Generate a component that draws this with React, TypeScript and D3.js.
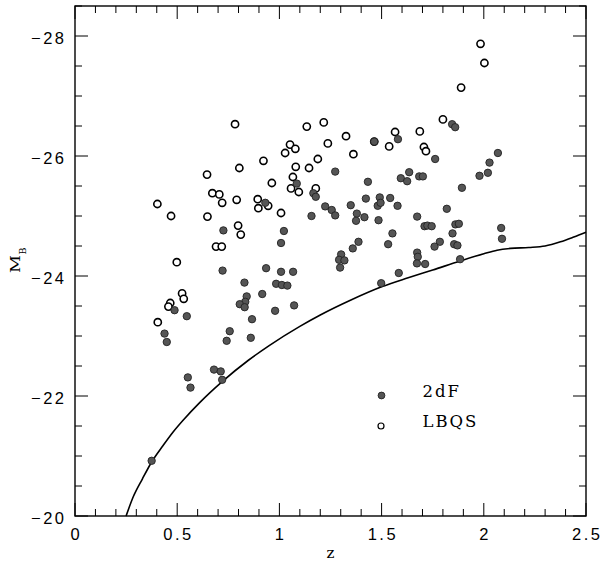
import React from 'react';
import * as d3 from 'd3';

// ---- data ----
const lbqsZ = [0.783,1.134,1.052,1.078,1.028,0.922,1.188,0.804,0.646,1.080,1.145,0.963,1.066,1.057,1.095,1.178,0.672,0.706,0.720,0.791,0.403,0.470,0.648,0.894,0.897,0.945,1.008,0.798,0.811,0.690,0.718,0.498,1.217,1.326,1.237,1.362,1.566,1.687,1.800,1.537,1.707,1.717,1.984,2.003,1.889,0.524,0.532,0.466,0.457,0.405,1.464];
const lbqsM = [-26.53,-26.49,-26.19,-26.12,-26.05,-25.92,-25.95,-25.80,-25.69,-25.82,-25.80,-25.55,-25.65,-25.46,-25.40,-25.46,-25.38,-25.36,-25.22,-25.27,-25.20,-25.00,-24.99,-25.28,-25.13,-25.17,-25.05,-24.84,-24.69,-24.49,-24.49,-24.23,-26.56,-26.33,-26.21,-26.03,-26.40,-26.41,-26.61,-26.16,-26.15,-26.08,-27.87,-27.55,-27.14,-23.71,-23.62,-23.55,-23.49,-23.23,-26.24];

const tdfZ = [1.085,1.166,1.178,0.931,1.157,0.726,1.022,1.008,0.722,0.935,1.008,1.067,0.829,0.984,1.012,1.039,0.916,0.840,0.833,0.806,0.830,1.072,0.487,0.547,0.979,0.866,0.438,0.449,0.757,0.742,0.860,0.680,0.713,0.720,0.552,0.565,0.375,1.845,1.860,1.464,1.580,1.762,2.069,2.028,2.020,1.979,1.273,1.433,1.635,1.594,1.625,1.684,1.702,1.893,1.224,1.256,1.273,1.349,1.423,1.491,1.481,1.495,1.542,1.578,1.379,1.375,1.416,1.485,1.819,1.674,1.710,1.724,1.745,1.861,1.878,2.085,2.089,1.553,1.847,1.387,1.359,1.532,1.785,1.759,1.855,1.871,1.302,1.292,1.318,1.297,1.674,1.677,1.673,1.713,1.884,1.584,1.498];
const tdfM = [-25.54,-25.38,-25.32,-25.22,-25.00,-24.76,-24.75,-24.55,-24.09,-24.13,-24.07,-24.07,-23.89,-23.87,-23.85,-23.84,-23.70,-23.66,-23.57,-23.53,-23.48,-23.51,-23.43,-23.33,-23.42,-23.28,-23.04,-22.90,-23.08,-22.92,-22.97,-22.44,-22.41,-22.27,-22.31,-22.14,-20.92,-26.53,-26.48,-26.24,-26.28,-25.95,-26.05,-25.89,-25.72,-25.67,-25.74,-25.57,-25.73,-25.63,-25.58,-25.66,-25.66,-25.47,-25.16,-25.10,-25.01,-25.18,-25.29,-25.31,-25.17,-25.22,-25.30,-25.17,-25.04,-24.92,-24.98,-24.93,-25.12,-24.99,-24.83,-24.84,-24.83,-24.86,-24.87,-24.80,-24.62,-24.71,-24.71,-24.57,-24.46,-24.53,-24.57,-24.49,-24.53,-24.51,-24.36,-24.27,-24.26,-24.14,-24.39,-24.32,-24.21,-24.20,-24.28,-24.05,-23.88];

const limitZ = [0.25,0.285,0.33,0.375,0.43,0.48,0.53,0.61,0.72,0.85,0.95,1.10,1.20,1.35,1.50,1.63,1.75,1.885,2.00,2.065,2.13,2.22,2.30,2.375,2.44,2.50];
const limitM = [-20.0,-20.32,-20.62,-20.9,-21.17,-21.40,-21.6,-21.89,-22.24,-22.6,-22.84,-23.16,-23.35,-23.6,-23.82,-23.97,-24.1,-24.25,-24.37,-24.43,-24.46,-24.475,-24.5,-24.57,-24.65,-24.73];

const xTickValues = [0, 0.5, 1, 1.5, 2, 2.5];
const xTickLabels = ['0', '0.5', '1', '1.5', '2', '2.5'];
const yTickValues = [-20, -22, -24, -26, -28];
const yTickLabels = ['\u221220', '\u221222', '\u221224', '\u221226', '\u221228'];
const legendLabels = ['2dF', 'LBQS'];

export default function App() {
  const W = 601, H = 561;
  const x = d3.scaleLinear().domain([0, 2.5]).range([75, 586]);
  const y = d3.scaleLinear().domain([-20, -28.5]).range([516, 6]);
  const x0 = x.range()[0], x1 = x.range()[1];
  const y0 = y.range()[0], y1 = y.range()[1];

  const xMinor = d3.range(0, 25.01, 1).map(v => v / 10);
  const yMinor = d3.range(0, 17.01, 1).map(v => -20 - v / 2);
  const isMajorX = (v: number) => Math.abs(v * 2 - Math.round(v * 2)) < 1e-6;
  const isMajorY = (v: number) => Math.abs(v / 2 - Math.round(v / 2)) < 1e-6;

  const line = d3.line<number>()
    .x((_, i) => x(limitZ[i]))
    .y((m) => y(m))
    .curve(d3.curveMonotoneX);

  const tickFont = { fontFamily: '"Liberation Sans", Arial, sans-serif', fontSize: 16.5, letterSpacing: 2.5 };
  const serif = '"DejaVu Serif", serif';
  const majLen = 13, minLen = 7;

  return (
    <svg width={W} height={H} style={{ position: 'absolute', left: 0, top: 0, background: '#fff' }}>
      <rect x={0} y={0} width={W} height={H} fill="#fff" />
      {xMinor.map((v, i) => {
        const L = isMajorX(v) ? majLen : minLen;
        return (
          <g key={'xt' + i} stroke="#000" strokeWidth={1}>
            <line x1={x(v)} x2={x(v)} y1={y0} y2={y0 - L} />
            <line x1={x(v)} x2={x(v)} y1={y1} y2={y1 + L} />
          </g>
        );
      })}
      {yMinor.map((v, i) => {
        const L = isMajorY(v) ? majLen : minLen;
        return (
          <g key={'yt' + i} stroke="#000" strokeWidth={1}>
            <line x1={x0} x2={x0 + L} y1={y(v)} y2={y(v)} />
            <line x1={x1} x2={x1 - L} y1={y(v)} y2={y(v)} />
          </g>
        );
      })}
      <rect x={x0} y={y1} width={x1 - x0} height={y0 - y1} fill="none" stroke="#000" strokeWidth={1.4} />
      {xTickValues.map((v, i) => (
        <text key={'xl' + i} x={x(v) + 1.25} y={540} textAnchor="middle" style={tickFont} fill="#000">{xTickLabels[i]}</text>
      ))}
      {yTickValues.map((v, i) => (
        <text key={'yl' + i} x={64 + 2.5} y={y(v) + 7.5} textAnchor="end" style={tickFont} fill="#000">{yTickLabels[i]}</text>
      ))}
      <text x={330.5} y={558} textAnchor="middle" fontFamily={serif} fontSize={15} fill="#000">z</text>
      <g transform="translate(20,273) rotate(-90)">
        <text x={0} y={0} fontFamily={serif} fontSize={12} textLength={18} lengthAdjust="spacingAndGlyphs" fill="#000">M</text>
        <text x={18.5} y={6} fontFamily={serif} fontSize={9} textLength={7} lengthAdjust="spacingAndGlyphs" fill="#000">B</text>
      </g>
      <path d={line(limitM) || ''} fill="none" stroke="#000" strokeWidth={1.6} />
      {lbqsZ.map((z, i) => (
        <circle key={'o' + i} cx={x(z)} cy={y(lbqsM[i])} r={3.6} fill="#fff" stroke="#000" strokeWidth={1.6} />
      ))}
      {tdfZ.map((z, i) => (
        <circle key={'f' + i} cx={x(z)} cy={y(tdfM[i])} r={3.7} fill="#555" stroke="#222" strokeWidth={0.9} />
      ))}
      <circle cx={381.5} cy={395.5} r={3.4} fill="#555" stroke="#222" strokeWidth={0.9} />
      <circle cx={381} cy={426} r={3} fill="#fff" stroke="#000" strokeWidth={1.2} />
      <text x={422.5} y={397} fontFamily={serif} fontSize={16.5} letterSpacing={2} fill="#000">{legendLabels[0]}</text>
      <text x={422.5} y={427} fontFamily={serif} fontSize={16.5} letterSpacing={2} fill="#000">{legendLabels[1]}</text>
    </svg>
  );
}
